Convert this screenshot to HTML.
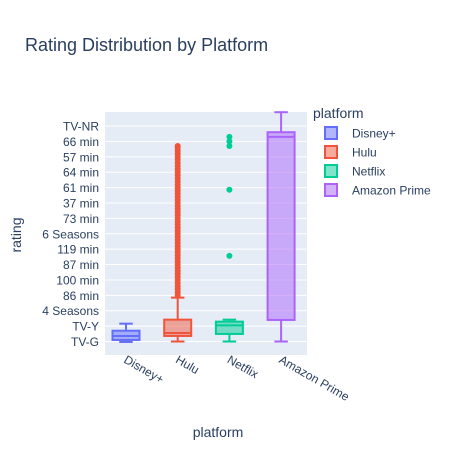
<!DOCTYPE html>
<html><head><meta charset="utf-8"><style>
body{margin:0;background:#fff}
svg text{font-family:"Liberation Sans",Arial,sans-serif;fill:#2a3f5f}
</style></head><body>
<svg id="chart" width="455" height="450" xmlns="http://www.w3.org/2000/svg">
<rect x="0" y="0" width="455" height="450" fill="#fff"/>
<text x="25" y="51" font-size="18">Rating Distribution by Platform</text>
<rect x="105" y="112" width="202" height="243" fill="#e5ecf6"/>
<g id="grid"></g>
<g id="yticks"></g>
<g id="xticks"></g>
<g id="boxes"></g>
<text transform="translate(21,235) rotate(-90)" text-anchor="middle" font-size="14">rating</text>
<text x="218" y="437" text-anchor="middle" font-size="14">platform</text>
<g id="legend">
<text x="313" y="118" font-size="14">platform</text>
</g>
</svg>
<script>
const yLabels=["TV-G","TV-Y","4 Seasons","86 min","100 min","87 min","119 min","6 Seasons","73 min","37 min","61 min","64 min","57 min","66 min","TV-NR"];
const platforms=["Disney+","Hulu","Netflix","Amazon Prime"];
const colors=["#636efa","#EF553B","#00cc96","#ab63fa"];
const lowWhisker=[-0.03,0,0,0];
const q1=[0.1,0.36,0.49,1.4];
const median=[0.36,0.55,1.05,13.3];
const q3=[0.7,1.42,1.29,13.6];
const highWhisker=[1.16,2.85,1.42,14.9];
const huluOutliers=[3.0,3.2,3.4,3.6,3.8,4.0,4.2,4.4,4.6,4.8,5.0,5.2,5.4,5.6,5.8,6.0,6.2,6.4,6.6,6.8,7.0,7.2,7.4,7.6,7.8,8.0,8.2,8.4,8.6,8.8,9.0,9.2,9.4,9.6,9.8,10.0,10.2,10.4,10.6,10.8,11.0,11.2,11.4,11.6,11.8,12.0,12.2,12.4,12.6,12.7];
const netflixOutliers=[5.56,9.86,12.7,13.0,13.3];
const outliers=[[],huluOutliers,netflixOutliers,[]];
const NS="http://www.w3.org/2000/svg";
const y0=341.5, step=15.39;
const Y=v=>y0-v*step;
const X=i=>126+i*51.7;
const bw=27;
function mk(tag,attrs,parent){const e=document.createElementNS(NS,tag);for(const k in attrs)e.setAttribute(k,attrs[k]);parent.appendChild(e);return e;}
const grid=document.getElementById('grid'),yt=document.getElementById('yticks'),xt=document.getElementById('xticks'),bx=document.getElementById('boxes'),lg=document.getElementById('legend');
yLabels.forEach((l,i)=>{
  const g=mk('line',{x1:105,x2:307,y1:Y(i),y2:Y(i),stroke:'#fff','stroke-width':1},grid);
  
  
  const t=mk('text',{x:99,y:Y(i)+4.5,'text-anchor':'end','font-size':12},yt);
  t.textContent=l;
  
  
});
platforms.forEach((p,i)=>{
  const x=X(i),c=colors[i];
  const t=mk('text',{transform:`translate(${x-3},${362}) rotate(30)`,'font-size':12},xt);
  t.textContent=p;
  
  
  const g=mk('g',{},bx);
  
  
  mk('line',{x1:x,x2:x,y1:Y(highWhisker[i]),y2:Y(q3[i]),stroke:c,'stroke-width':2},g);
  mk('line',{x1:x,x2:x,y1:Y(q1[i]),y2:Y(lowWhisker[i]),stroke:c,'stroke-width':2},g);
  mk('line',{x1:x-bw/4,x2:x+bw/4,y1:Y(highWhisker[i]),y2:Y(highWhisker[i]),stroke:c,'stroke-width':2},g);
  mk('line',{x1:x-bw/4,x2:x+bw/4,y1:Y(lowWhisker[i]),y2:Y(lowWhisker[i]),stroke:c,'stroke-width':2},g);
  mk('rect',{x:x-bw/2,y:Y(q3[i]),width:bw,height:Y(q1[i])-Y(q3[i]),fill:c,'fill-opacity':0.5,stroke:c,'stroke-width':2},g);
  mk('line',{x1:x-bw/2,x2:x+bw/2,y1:Y(median[i]),y2:Y(median[i]),stroke:c,'stroke-width':2},g);
  outliers[i].forEach(v=>{
    const d=mk('circle',{cx:x,cy:Y(v),r:3,fill:c},g);
    
    
  });
  const ly=133+i*19;
  const e=mk('g',{},lg);
  
  
  mk('rect',{x:325,y:ly-6,width:12,height:12,fill:c,'fill-opacity':0.5,stroke:c,'stroke-width':2},e);
  const lt=mk('text',{x:352,y:ly+4.5,'font-size':12},e);
  lt.textContent=p;
});
</script>
</body></html>
